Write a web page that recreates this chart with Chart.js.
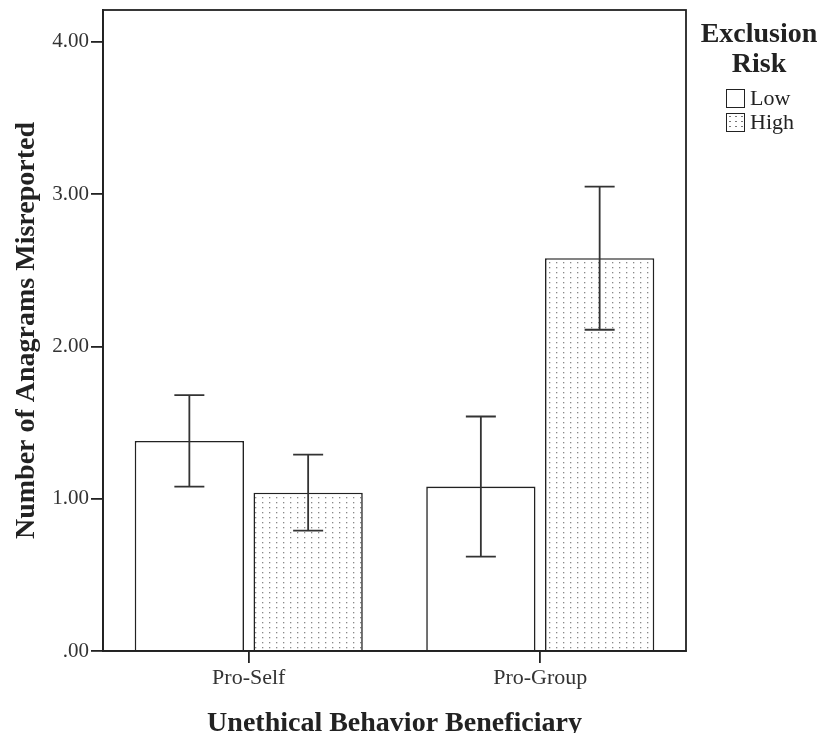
<!DOCTYPE html>
<html>
<head>
<meta charset="utf-8">
<script src="https://cdn.jsdelivr.net/npm/chart.js@4/dist/chart.umd.min.js"></script>
<style>
  html, body { margin: 0; background: #fff; overflow: hidden; }
  #wrap { position: relative; width: 819px; height: 733px; overflow: hidden; }
  #legend { position: absolute; left: 690px; top: 18px; width: 138px; font-family: "Liberation Serif", serif; color: #222; }
  #legend .ttl { text-align: center; font-weight: bold; font-size: 28px; line-height: 30px; }
  #legend .row { display: flex; align-items: center; height: 24px; margin-left: 36px; font-size: 22px; }
  #legend .box { width: 17px; height: 17px; border: 1.5px solid #222; margin-right: 5px; background: #fff; flex: none; }
  #legend .box.dots { background-image: radial-gradient(circle, #777 0.8px, transparent 1px); background-size: 6px 5px; }
</style>
</head>
<body>
<div id="wrap">
  <canvas id="c" width="819" height="733"></canvas>
  <div id="legend">
    <div class="ttl">Exclusion<br>Risk</div>
    <div style="height:8px"></div>
    <div class="row"><span class="box"></span>Low</div>
    <div class="row"><span class="box dots"></span>High</div>
  </div>
</div>
<script>
// dữ liệu
const categories = ['Pro-Self', 'Pro-Group'];
const seriesNames = ['Low', 'High'];
const lowMeans = [1.38, 1.08];
const lowUpper = [1.68, 1.54];
const lowLower = [1.08, 0.62];
const highMeans = [1.04, 2.58];
const highUpper = [1.29, 3.05];
const highLower = [0.79, 2.11];
const yTicks = [0, 1, 2, 3, 4];

// hoa văn chấm cho nhóm High
function dotPattern() {
    const p = document.createElement('canvas');
    p.width = 7; p.height = 5;
    const g = p.getContext('2d');
    g.fillStyle = '#fff';
    g.fillRect(0, 0, 7, 5);
    g.fillStyle = '#888';
    g.fillRect(3, 2, 1.3, 1.3);
    return document.getElementById('c').getContext('2d').createPattern(p, 'repeat');
}

const errorBars = {
    id: 'errorBars',
    afterDatasetsDraw(chart) {
        const ctx = chart.ctx;
        const y = chart.scales.y;
        const ups = [lowUpper, highUpper];
        const los = [lowLower, highLower];
        ctx.save();
        ctx.strokeStyle = '#333';
        ctx.lineWidth = 1.8;
        chart.data.datasets.forEach((ds, di) => {
            chart.getDatasetMeta(di).data.forEach((bar, i) => {
                const x = bar.x;
                const yt = y.getPixelForValue(ups[di][i]);
                const yb = y.getPixelForValue(los[di][i]);
                ctx.beginPath();
                ctx.moveTo(x, yt); ctx.lineTo(x, yb);
                ctx.moveTo(x - 15, yt); ctx.lineTo(x + 15, yt);
                ctx.moveTo(x - 15, yb); ctx.lineTo(x + 15, yb);
                ctx.stroke();
            });
        });
        // khung quanh vùng biểu đồ
        const a = chart.chartArea;
        ctx.strokeStyle = '#222';
        ctx.lineWidth = 1.8;
        ctx.strokeRect(a.left, a.top, a.right - a.left, a.bottom - a.top);
        ctx.restore();
    }
};

new Chart(document.getElementById('c'), {
    type: 'bar',
    data: {
        labels: categories,
        datasets: [
            { label: seriesNames[0], data: lowMeans, backgroundColor: '#fff', borderColor: '#222', borderWidth: 1.6, borderSkipped: 'bottom' },
            { label: seriesNames[1], data: highMeans, backgroundColor: dotPattern(), borderColor: '#222', borderWidth: 1.6, borderSkipped: 'bottom' }
        ]
    },
    options: {
        responsive: false,
        animation: false,
        layout: { padding: { top: 10, right: 133, left: 0, bottom: 0 } },
        categoryPercentage: 0.815,
        barPercentage: 0.92,
        plugins: { legend: { display: false }, tooltip: { enabled: false } },
        scales: {
            x: {
                grid: { offset: false, drawOnChartArea: false, tickLength: 12, color: '#222', lineWidth: 1.8 },
                border: { color: '#222', width: 1.8 },
                ticks: { font: { family: 'Liberation Serif', size: 22 }, color: '#333', padding: 2 },
                title: { display: true, text: 'Unethical Behavior Beneficiary', font: { family: 'Liberation Serif', size: 28, weight: 'bold', lineHeight: 1 }, color: '#222', padding: { top: 4, bottom: -5 } },
                afterFit: s => { s.height = 82; }
            },
            y: {
                min: 0,
                max: 4.21,
                afterBuildTicks: s => { s.ticks = yTicks.map(v => ({ value: v })); },
                grid: { drawOnChartArea: false, tickLength: 12, color: '#222', lineWidth: 1.8 },
                border: { color: '#222', width: 1.8 },
                ticks: {
                    font: { family: 'Liberation Serif', size: 21 }, color: '#333', padding: 2,
                    callback: v => v === 0 ? '.00' : v.toFixed(2)
                },
                title: { display: true, text: 'Number of Anagrams Misreported', font: { family: 'Liberation Serif', size: 28, weight: 'bold', lineHeight: 1 }, color: '#222', padding: { top: 13, bottom: 2 } },
                afterFit: s => { s.width = 103; s.paddingTop = 0; s.paddingBottom = 0; }
            }
        }
    },
    plugins: [errorBars]
});
</script>
</body>
</html>
